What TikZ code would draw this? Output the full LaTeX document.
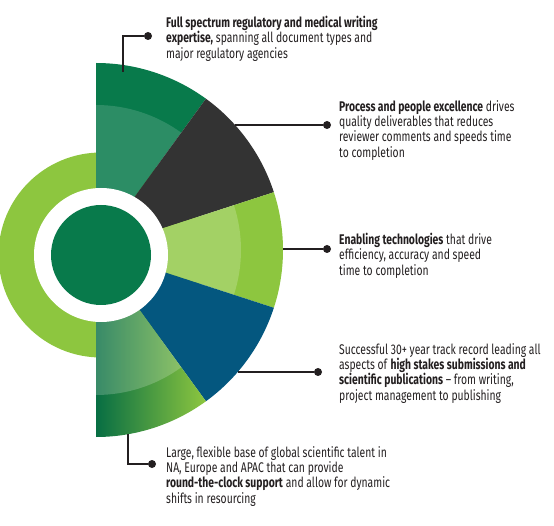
\documentclass[tikz,border=0pt]{standalone}
\usepackage{fontspec}
\setmainfont{Fira Sans}[FakeStretch=0.74]
\usepackage{xcolor}
\usepackage{tikz}
\usetikzlibrary{positioning}

\definecolor{dkgreen}{HTML}{087A4B}
\definecolor{ltgreen}{HTML}{8DC63F}
\definecolor{slate}{HTML}{333333}
\definecolor{navy}{HTML}{04577F}
\definecolor{ink}{HTML}{231F20}

\begin{document}
\begin{tikzpicture}[
  x=1pt, y=1pt,
  txt/.style={anchor=north west, inner sep=0pt, align=left, text=ink,
    font=\fontsize{14}{15.3}\selectfont},
  dot/.style={circle, fill=ink, inner sep=0pt, minimum size=8pt},
  lead/.style={line width=1.5pt, draw=ink},
  glow/.style={white, fill opacity=0.15}
]
  \useasboundingbox (0,0) rectangle (554,525);
  \coordinate (C) at (96,275);
  \coordinate (O) at (101,270);

  % left ring
  \fill[ltgreen, even odd rule] (O) circle (102.5) (O) circle (60);

  % five sectors
  \fill[dkgreen] (C) -- ++(90:187) arc (90:54:187) -- cycle;
  \fill[glow] (C) -- ++(90:145) arc (90:54:145) -- cycle;
  \fill[slate] (C) -- ++(54:187) arc (54:18:187) -- cycle;
  \fill[ltgreen] (C) -- ++(18:187) arc (18:-18:187) -- cycle;
  \fill[glow, fill opacity=0.2] (C) -- ++(18:145) arc (18:-18:145) -- cycle;
  \fill[navy] (C) -- ++(-18:187) arc (-18:-54:187) -- cycle;
  \shade[left color=dkgreen!90!black, right color=ltgreen]
    (C) -- ++(-54:187) arc (-54:-90:187) -- cycle;
  \fill[glow, fill opacity=0.2] (C) -- ++(-54:145) arc (-54:-90:145) -- cycle;

  % hub
  \fill[white] (O) circle (67);
  \fill[dkgreen] (O) circle (50);

  % callouts
  \coordinate (s1) at (123,453);
  \coordinate (s2) at (235,400);
  \coordinate (s3) at (283,276);
  \coordinate (s4) at (238,153);
  \coordinate (s5) at (128,91);

  \node[dot] (d1) at (148,489) {};
  \node[dot] (d2) at (327,400) {};
  \node[dot] (d3) at (327,276) {};
  \node[dot] (d4) at (318,153) {};
  \node[dot] (d5) at (152,61) {};

  \node[txt] (t1) at (166,509) {\textbf{Full spectrum regulatory and medical writing}\\
    \textbf{expertise,} spanning all document types and\\
    major regulatory agencies};
  \node[txt] (t2) at (339,425) {\textbf{Process and people excellence} drives\\
    quality deliverables that reduces\\
    reviewer comments and speeds time\\
    to completion};
  \node[txt] (t3) at (339,292) {\textbf{Enabling technologies} that drive\\
    efficiency, accuracy and speed\\
    time to completion};
  \node[txt] (t4) at (339,182) {Successful 30+ year track record leading all\\
    aspects of \textbf{high stakes submissions and}\\
    \textbf{scientific publications} -- from writing,\\
    project management to publishing};
  \node[txt] (t5) at (166,79) {Large, flexible base of global scientific talent in\\
    NA, Europe and APAC that can provide\\
    \textbf{round-the-clock support} and allow for dynamic\\
    shifts in resourcing};

  \draw[lead] (s1) |- (d1);
  \draw[lead] (s2) -- (d2);
  \draw[lead] (s3) -- (d3);
  \draw[lead] (s4) -- (d4);
  \draw[lead] (s5) |- (d5);
\end{tikzpicture}
\end{document}
